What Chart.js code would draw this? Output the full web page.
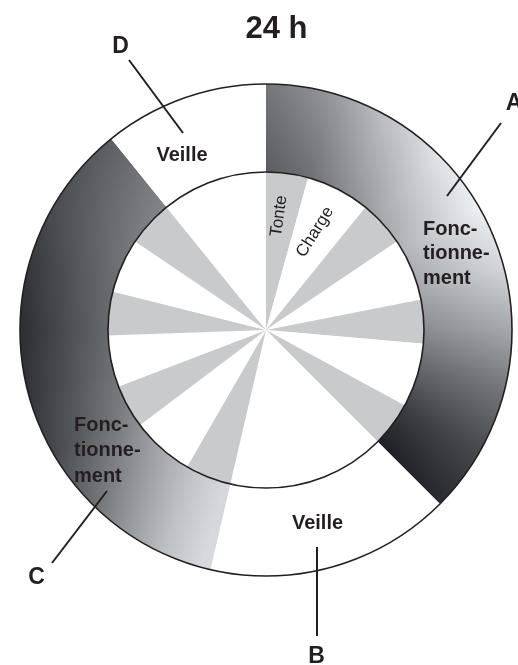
<!DOCTYPE html>
<html>
<head>
<meta charset="utf-8">
<script src="https://cdn.jsdelivr.net/npm/chart.js@4.4.0/dist/chart.umd.min.js"></script>
<style>
  html, body { margin: 0; padding: 0; background: #fff; }
  #wrap { width: 518px; height: 665px; }
</style>
</head>
<body>
<div id="wrap"><canvas id="cycle"></canvas></div>
<script>
// 24 h cycle, hours clockwise from 12 o'clock
var phaseTags = ['A', 'B', 'C', 'D'];
var phaseLabels = ['Fonctionnement', 'Veille', 'Fonctionnement', 'Veille'];
var phaseHours = [9, 3.87, 8.53, 2.6];

var taskLabels = ['Tonte', 'Charge', 'Tonte', 'Charge', 'Tonte', 'Charge', 'Tonte', 'Veille',
                  'Tonte', 'Charge', 'Tonte', 'Charge', 'Tonte', 'Charge', 'Tonte', 'Veille'];
var taskHours = [1.03, 1.57, 1.13, 1.53, 1.07, 1.57, 1.1, 3.87,
                 1.13, 1.53, 1.07, 1.27, 1.07, 1.33, 1.13, 2.6];

var ink = '#231f20';
var font = '"Liberation Sans", Arial, Helvetica, sans-serif';
var outerWeight = 88, innerWeight = 158;

// grey shading of the "Fonctionnement" ring: [angle, grey at inner edge, grey at outer edge]
var shadeStops = [
  [0, 92, 118], [15, 110, 150], [30, 140, 195], [45, 165, 228], [60, 180, 240],
  [75, 168, 215], [90, 140, 168], [105, 100, 115], [120, 60, 72], [135, 30, 42],
  [165, 200, 200],
  [195, 215, 218], [205, 200, 190], [215, 180, 150], [225, 160, 110], [240, 130, 70],
  [255, 112, 52], [270, 104, 45], [285, 108, 55], [300, 118, 75], [321, 134, 95], [360, 92, 118]
];

var shadeCache = null;
function ringShade(chart) {
  var a = chart.chartArea;
  if (!a) return '#808080';
  var key = [a.left, a.top, a.right, a.bottom].join(',');
  if (shadeCache && shadeCache.key === key) return shadeCache.pattern;
  var w = chart.width, h = chart.height;
  var off = document.createElement('canvas');
  off.width = w; off.height = h;
  var octx = off.getContext('2d');
  var img = octx.createImageData(w, h);
  var cx = (a.left + a.right) / 2, cy = (a.top + a.bottom) / 2;
  var R = Math.min(a.right - a.left, a.bottom - a.top) / 2;
  var r0 = R * innerWeight / (innerWeight + outerWeight);
  for (var y = 0; y < h; y++) {
    for (var x = 0; x < w; x++) {
      var dx = x + 0.5 - cx, dy = y + 0.5 - cy;
      var r = Math.sqrt(dx * dx + dy * dy);
      var rho = Math.min(1, Math.max(0, (r - r0) / (R - r0)));
      var th = Math.atan2(dx, -dy) * 180 / Math.PI;
      if (th < 0) th += 360;
      var k = 0;
      while (k < shadeStops.length - 2 && shadeStops[k + 1][0] < th) k++;
      var s0 = shadeStops[k], s1 = shadeStops[k + 1];
      var t = (th - s0[0]) / (s1[0] - s0[0]);
      var gi = s0[1] + (s1[1] - s0[1]) * t;
      var go = s0[2] + (s1[2] - s0[2]) * t;
      var g = gi + (go - gi) * rho;
      var i = (y * w + x) * 4;
      img.data[i] = g - 1;
      img.data[i + 1] = g;
      img.data[i + 2] = g + 4;
      img.data[i + 3] = 255;
    }
  }
  octx.putImageData(img, 0, 0);
  var pattern = chart.ctx.createPattern(off, 'no-repeat');
  shadeCache = { key: key, pattern: pattern };
  return pattern;
}

var cycleDecor = {
  id: 'cycleDecor',
  afterDatasetsDraw: function (chart) {
    var arc = chart.getDatasetMeta(0).data[0];
    var ctx = chart.ctx, cx = arc.x, cy = arc.y;
    ctx.save();
    ctx.strokeStyle = ink;
    ctx.lineWidth = 1.6;
    [arc.outerRadius, arc.innerRadius].forEach(function (r) {
      ctx.beginPath();
      ctx.arc(cx, cy, r, 0, Math.PI * 2);
      ctx.stroke();
    });

    // callout lines to the phase letters
    ctx.lineWidth = 2;
    [[235, -207, 181, -134], [51, 217, 51, 306], [-159, 161, -214, 233], [-137, -270, -83, -197]]
      .forEach(function (l) {
        ctx.beginPath();
        ctx.moveTo(cx + l[0], cy + l[1]);
        ctx.lineTo(cx + l[2], cy + l[3]);
        ctx.stroke();
      });

    ctx.fillStyle = ink;
    ctx.textAlign = 'center';
    ctx.textBaseline = 'middle';
    ctx.font = 'bold 31px ' + font;
    ctx.fillText('24 h', cx + 10.5, cy - 301);

    ctx.font = 'bold 23px ' + font;
    var tagPos = [[248, -226], [50.5, 327], [-229.5, 248], [-145.5, -283]];
    phaseTags.forEach(function (tag, i) {
      ctx.fillText(tag, cx + tagPos[i][0], cy + tagPos[i][1]);
    });

    ctx.font = 'bold 20px ' + font;
    ctx.fillText(phaseLabels[1], cx + 51.5, cy + 193);
    ctx.fillText(phaseLabels[3], cx - 84, cy - 175);
    ctx.textAlign = 'left';
    var split = ['Fonc-', 'tionne-', 'ment'];
    split.forEach(function (s, j) {
      ctx.fillText(s, cx + 157, cy - 101 + j * 24.5);
      ctx.fillText(s, cx - 192, cy + 95 + j * 25.5);
    });

    ctx.font = '17px ' + font;
    ctx.textAlign = 'center';
    [[taskLabels[0], 13, -114, -82], [taskLabels[1], 49, -98, -58]].forEach(function (t) {
      ctx.save();
      ctx.translate(cx + t[1], cy + t[2]);
      ctx.rotate(t[3] * Math.PI / 180);
      ctx.fillText(t[0], 0, 0);
      ctx.restore();
    });
    ctx.restore();
  }
};

new Chart(document.getElementById('cycle'), {
  type: 'pie',
  data: {
    labels: taskLabels,
    datasets: [{
      label: 'Phases',
      data: phaseHours,
      weight: outerWeight,
      borderWidth: 0,
      backgroundColor: function (c) {
        if (c.dataIndex === undefined) return '#fff';
        return phaseLabels[c.dataIndex] === 'Veille' ? '#ffffff' : ringShade(c.chart);
      }
    }, {
      label: 'Tâches',
      data: taskHours,
      weight: innerWeight,
      borderWidth: 0,
      backgroundColor: taskLabels.map(function (t) { return t === 'Tonte' ? '#c9cacc' : '#ffffff'; })
    }]
  },
  options: {
    responsive: true,
    maintainAspectRatio: false,
    animation: false,
    events: [],
    layout: { padding: { left: 20, right: 6, top: 84, bottom: 89 } },
    plugins: {
      legend: { display: false },
      tooltip: { enabled: false }
    }
  },
  plugins: [cycleDecor]
});
</script>
</body>
</html>
